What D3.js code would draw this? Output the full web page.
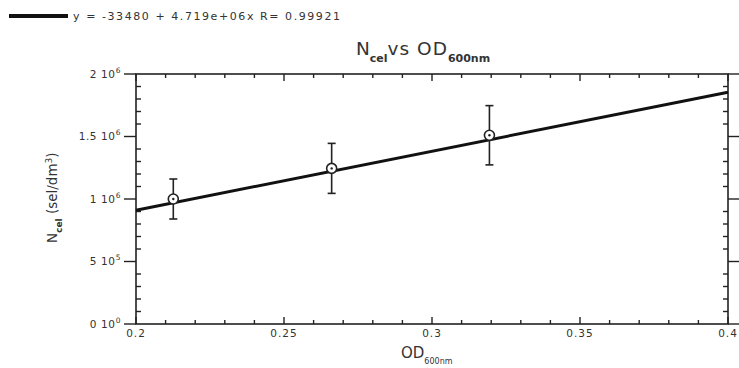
<!DOCTYPE html>
<html><head><meta charset="utf-8">
<script src="https://cdn.jsdelivr.net/npm/d3@7"></script>
<style>body{margin:0;background:#fff}svg{display:block}text{font-family:"DejaVu Sans",Verdana,sans-serif;fill:#333}</style>
</head><body><svg id="c" width="739" height="368"></svg>
<script>
const odValues = [0.2126, 0.2661, 0.3194];
const nCelValues = [1.0e6, 1.245e6, 1.51e6];
const nCelErrors = [0.16e6, 0.2e6, 0.237e6];
const fitIntercept = -33480;
const fitSlope = 4.719e6;
const fitR = 0.99921;
const xTickLabels = ["0.2", "0.25", "0.3", "0.35", "0.4"];
const yTickMant = ["0", "5", "1", "1.5", "2"];
const yTickExp = ["0", "5", "6", "6", "6"];
const yTickValues = [0, 5e5, 1e6, 1.5e6, 2e6];

const svg = d3.select("#c");
const L = 136, R = 728, T = 74, B = 324;
const x = d3.scaleLinear().domain([0.2, 0.4]).range([L, R]);
const y = d3.scaleLinear().domain([0, 2e6]).range([B, T]);
const ink = "#222";

svg.append("rect").attr("x", L).attr("y", T).attr("width", R - L).attr("height", B - T)
  .attr("fill", "none").attr("stroke", ink).attr("stroke-width", 1.6);

const xMinor = d3.range(0.2, 0.40001, 0.01);
xMinor.forEach((v, i) => {
  const major = i % 5 === 0;
  const len = major ? 7 : 4;
  const px = x(v);
  svg.append("line").attr("x1", px).attr("x2", px).attr("y1", B).attr("y2", B - len).attr("stroke", ink).attr("stroke-width", 1.4);
  svg.append("line").attr("x1", px).attr("x2", px).attr("y1", T).attr("y2", T + len).attr("stroke", ink).attr("stroke-width", 1.4);
});
const yMinor = d3.range(0, 2e6 + 1, 1e5);
yMinor.forEach((v, i) => {
  const py = y(v);
  if (i % 5 === 0) {
    svg.append("line").attr("x1", L - 12).attr("x2", L).attr("y1", py).attr("y2", py).attr("stroke", ink).attr("stroke-width", 1.4);
    svg.append("line").attr("x1", R).attr("x2", R + 12).attr("y1", py).attr("y2", py).attr("stroke", ink).attr("stroke-width", 1.4);
  } else {
    svg.append("line").attr("x1", L).attr("x2", L + 5).attr("y1", py).attr("y2", py).attr("stroke", ink).attr("stroke-width", 1.4);
    svg.append("line").attr("x1", R - 5).attr("x2", R).attr("y1", py).attr("y2", py).attr("stroke", ink).attr("stroke-width", 1.4);
  }
});

xTickLabels.forEach(s => {
  svg.append("text").attr("x", x(+s)).attr("y", 337).attr("text-anchor", "middle")
    .attr("font-size", 10.5).attr("letter-spacing", 1).attr("fill", "#444").text(s);
});
yTickValues.forEach((v, i) => {
  const t = svg.append("text").attr("x", 121).attr("y", y(v) + 3.5).attr("text-anchor", "end")
    .attr("font-size", 10.5).attr("letter-spacing", 0.6).attr("fill", "#444");
  t.append("tspan").text(yTickMant[i] + " 10");
  t.append("tspan").attr("dy", -5).attr("font-size", 7.5).text(yTickExp[i]);
});

svg.append("line")
  .attr("x1", x(0.2)).attr("y1", y(fitIntercept + fitSlope * 0.2))
  .attr("x2", x(0.4)).attr("y2", y(fitIntercept + fitSlope * 0.4))
  .attr("stroke", "#111").attr("stroke-width", 3);

odValues.forEach((od, i) => {
  const px = x(od), v = nCelValues[i], e = nCelErrors[i];
  const g = svg.append("g").attr("stroke", "#222").attr("stroke-width", 1.6);
  g.append("line").attr("x1", px).attr("x2", px).attr("y1", y(v + e)).attr("y2", y(v - e));
  g.append("line").attr("x1", px - 4).attr("x2", px + 4).attr("y1", y(v + e)).attr("y2", y(v + e));
  g.append("line").attr("x1", px - 4).attr("x2", px + 4).attr("y1", y(v - e)).attr("y2", y(v - e));
  svg.append("circle").attr("cx", px).attr("cy", y(v)).attr("r", 5).attr("fill", "#fff").attr("stroke", "#222").attr("stroke-width", 1.6);
  svg.append("circle").attr("cx", px).attr("cy", y(v)).attr("r", 1.2).attr("fill", "#222");
});

svg.append("line").attr("x1", 9).attr("x2", 68).attr("y1", 16).attr("y2", 16).attr("stroke", "#111").attr("stroke-width", 4);
svg.append("text").attr("x", 73).attr("y", 20).attr("font-size", 11).attr("fill", "#444")
  .attr("textLength", 267).attr("lengthAdjust", "spacing")
  .text(`y = ${fitIntercept} + ${d3.format(".3e")(fitSlope).replace("e+", "e+0")}x R= ${fitR}`);

const title = svg.append("text").attr("x", 356).attr("y", 55).attr("font-size", 18.5).attr("fill", "#222");
title.append("tspan").text("N");
title.append("tspan").attr("dy", 7).attr("font-size", 11).attr("font-weight", "bold").text("cel");
title.append("tspan").attr("dy", -7).attr("letter-spacing", 1).text("vs OD");
title.append("tspan").attr("dy", 7).attr("font-size", 11).attr("font-weight", "bold").text("600nm");

const xl = svg.append("text").attr("x", 401).attr("y", 358).attr("font-size", 15);
xl.append("tspan").text("OD");
xl.append("tspan").attr("dy", 6).attr("font-size", 8).text("600nm");

const yl = svg.append("text").attr("transform", "translate(57,243) rotate(-90)").attr("font-size", 13.5);
yl.append("tspan").text("N");
yl.append("tspan").attr("dy", 5).attr("font-size", 9).attr("font-weight", "bold").text("cel");
yl.append("tspan").attr("dy", -5).text(" (sel/dm");
yl.append("tspan").attr("dy", -5).attr("font-size", 9).text("3");
yl.append("tspan").attr("dy", 5).text(")");
</script></body></html>
